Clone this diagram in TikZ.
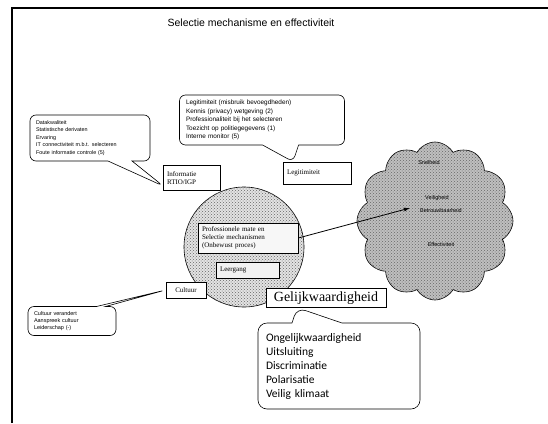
\documentclass[tikz,border=0pt]{standalone}
\usepackage{fontspec}
\setmainfont{Liberation Serif}
\newfontfamily\arialf{Liberation Sans}
\newfontfamily\calibrif{Carlito}
\usetikzlibrary{shapes.symbols,shapes.callouts,arrows.meta,patterns}

\begin{document}
\begin{tikzpicture}[x=1pt,y=-1pt,
  frame/.style={line width=1.3pt},
  lbl/.style={draw, fill=white, font=\fontsize{7}{8}\selectfont, inner sep=2.5pt, align=left, line width=0.6pt},
  note/.style={rectangle callout, draw, fill=white, rounded corners=6pt, line width=0.6pt,
    font=\arialf\fontsize{5.5}{7}\selectfont, align=left, inner sep=4pt},
  speckle/.style={postaction={pattern=crosshatch dots, pattern color=black!60}},
  tiny/.style={font=\arialf\fontsize{5.5}{6}\selectfont}
]
\useasboundingbox (0,0) rectangle (548,423);
\fill[white] (0,0) rectangle (548,423);

% page frame
\draw[frame] (12,423) -- (12,8) -- (548,8);

% title
\node[font=\arialf\fontsize{10.5}{12}\selectfont] (title) at (251,23) {Selectie mechanisme en effectiviteit};

% central circle with inner boxes
\node[circle, draw, line width=0.6pt, minimum size=120pt, fill=gray!22, speckle] (circ) at (244,247) {};
\node[lbl, minimum width=100pt, minimum height=30pt, text width=92pt, fill=gray!6] (core) at (248,238)
  {Professionele mate en\\Selectie mechanismen\\(Onbewust proces)};
\node[lbl, minimum width=63pt, minimum height=16pt, text width=56pt, fill=gray!10] (leer) at (248,270) {Leergang};

% labelled boxes around the circle
\node[lbl, minimum width=57pt, minimum height=25pt, text width=50pt] (info) at (192,178) {Informatie\\RTIO/IGP};
\node[lbl, minimum width=68pt, minimum height=22pt, text width=60pt] (legit) at (317,173) {Legitimiteit};
\node[lbl, minimum width=40pt, minimum height=16pt] (cult) at (186,290) {Cultuur};
\node[lbl, font=\fontsize{14}{16}\selectfont, inner sep=3pt, minimum width=120pt] (gelijk) at (326,298) {Gelijkwaardigheid};
\coordinate (infotip) at ([yshift=-8pt]info.west);

% callouts
\node[note, font=\arialf\fontsize{6.4}{8.6}\selectfont, minimum width=165pt, minimum height=50pt, text width=152pt,
  callout absolute pointer={(legit.north -| 293,0)}, callout pointer width=36pt] (topnote) at (262,120)
  {Legitimiteit (misbruik bevoegdheden)\\Kennis (privacy) wetgeving (2)\\Professionaliteit bij het selecteren\\Toezicht op politiegegevens (1)\\Interne monitor (5)};
\node[note, font=\arialf\fontsize{5.4}{7.4}\selectfont, minimum width=120pt, minimum height=46pt, text width=108pt,
  callout absolute pointer={(infotip)}, callout pointer width=24pt] (infonote) at (90,138)
  {Datakwaliteit\\Statistische derivaten\\Ervaring\\IT connectiviteit m.b.t. selecteren\\Foute informatie controle (5)};
\node[note, minimum width=88pt, minimum height=29pt, text width=76pt,
  callout absolute pointer={(cult.west)}, callout pointer width=9pt] (cultnote) at (72,321)
  {Cultuur verandert\\Aanspreek cultuur\\Leiderschap (-)};
\node[note, font=\calibrif\fontsize{11.5}{14}\selectfont, minimum width=162pt, minimum height=86pt, text width=146pt,
  callout absolute pointer={(gelijk.south -| 297,0)}, callout pointer width=50pt, rounded corners=9pt] (list) at (339,366)
  {Ongelijkwaardigheid\\Uitsluiting\\Discriminatie\\Polarisatie\\Veilig klimaat};

% cloud of outcomes
\node[cloud, draw, line width=0.6pt, cloud puffs=12, cloud puff arc=120, aspect=1,
  minimum width=156pt, minimum height=158pt, fill=gray!50, speckle] (cloud) at (435,221) {};
\node[tiny] (c1) at (429,163) {Snelheid};
\node[tiny] (c2) at (437,198) {Veiligheid};
\node[tiny] (c3) at (441,211) {Betrouwbaarheid};
\node[tiny] (c4) at (441,245) {Effectiviteit};
\coordinate (cin) at (410,208);

\draw[line width=0.8pt, -{Latex[length=6pt,width=4pt]}] (core.east) -- (cin);
\end{tikzpicture}
\end{document}
